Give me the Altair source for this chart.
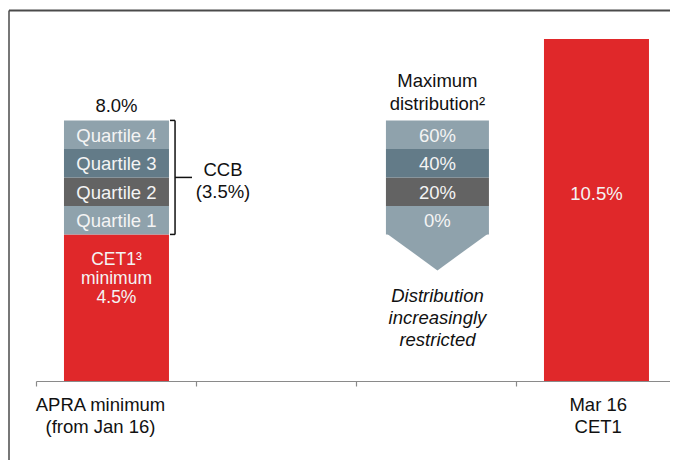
import altair as alt
import pandas as pd

FONT = "Liberation Sans"
RED = "#E0282A"
LIGHT = "#8FA2AC"
BLUE = "#637B88"
DARK = "#636363"
TXT_IN = "#F4F4F4"

# ---- data ----
axis_ticks = [0, 1, 2, 3, 4]
axis_labels = ["APRA minimum\n(from Jan 16)", "Mar 16\nCET1"]
axis_label_x = [0.403, 3.514]

apra_x = 0.503
apra_segments = ["CET1", "Quartile 1", "Quartile 2", "Quartile 3", "Quartile 4"]
apra_values = [4.5, 0.875, 0.875, 0.875, 0.875]
apra_colors = [RED, LIGHT, DARK, BLUE, LIGHT]
apra_total_label = "8.0%"
cet1_label = "CET1³\nminimum\n4.5%"

dist_x = 2.509
dist_base = 4.5
dist_labels = ["0%", "20%", "40%", "60%"]
dist_values = [0.875, 0.875, 0.875, 0.875]
dist_colors = [LIGHT, DARK, BLUE, LIGHT]
dist_title = "Maximum\ndistribution²"
dist_note = "Distribution\nincreasingly\nrestricted"

mar_x = 3.503
mar_value = 10.5
mar_label = "10.5%"

ccb_label = "CCB\n(3.5%)"
ccb_x = 1.169
bracket_x = 0.869
bracket_tick_x = 0.8375
bracket_mid_x2 = 0.975

# ---- tables ----
seg_rows = []
y0 = 0.0
for name, v, c in zip(apra_segments, apra_values, apra_colors):
    seg_rows.append(dict(x=apra_x, y=y0, y2=y0 + v, color=c, label=name, mid=y0 + v / 2))
    y0 += v
apra_top = y0
y0 = dist_base
for name, v, c in zip(dist_labels, dist_values, dist_colors):
    seg_rows.append(dict(x=dist_x, y=y0, y2=y0 + v, color=c, label=name, mid=y0 + v / 2))
    y0 += v
dist_top = y0
seg_rows.append(dict(x=mar_x, y=0.0, y2=mar_value, color=RED, label=mar_label, mid=mar_value / 2))
seg = pd.DataFrame(seg_rows)

xscale = alt.Scale(domain=[0, 4], nice=False, zero=False, padding=0, range=[0, 640])
yscale = alt.Scale(domain=[0, 11.39], nice=False, zero=True, padding=0)

X = alt.X("x:Q", scale=xscale,
          axis=alt.Axis(values=axis_ticks, labels=False, tickSize=5, tickColor="#8A8A8A",
                        domainColor="#8A8A8A", domainWidth=1.2, tickWidth=1.2, grid=False),
          title=None)
Y = alt.Y("y:Q", scale=yscale, axis=None)

bars = alt.Chart(seg).mark_bar(width=105).transform_filter("datum.x != %s" % dist_x).encode(
    x=X, y=Y, y2="y2:Q", color=alt.Color("color:N", scale=None))
dist_bars = alt.Chart(seg).mark_bar(width=103).transform_filter("datum.x == %s" % dist_x).encode(
    x="x:Q", y="y:Q", y2="y2:Q", color=alt.Color("color:N", scale=None))

tri = alt.Chart(pd.DataFrame({"x": [dist_x], "y": [dist_base]})).mark_point(
    shape="M -1 -0.03 L 1 -0.03 L 0 0.7 Z", size=10609, filled=True, opacity=1,
    color=LIGHT, strokeWidth=0).encode(x="x:Q", y="y:Q")

inner = alt.Chart(seg).transform_filter(
    "datum.label != 'CET1' && datum.label != '%s'" % mar_label).mark_text(
    font=FONT, fontSize=18.5, color=TXT_IN, baseline="middle", dy=1).encode(
    x="x:Q", y="mid:Q", text="label:N")

cet1 = alt.Chart(pd.DataFrame({"x": [apra_x], "y": [apra_values[0] / 2], "t": [cet1_label]})).mark_text(
    font=FONT, fontSize=17.5, color=TXT_IN, baseline="middle", lineBreak="\n", lineHeight=19, dy=-48).encode(
    x="x:Q", y="y:Q", text="t:N")

mar_t = alt.Chart(pd.DataFrame({"x": [mar_x], "y": [mar_value / 2], "t": [mar_label]})).mark_text(
    font=FONT, fontSize=18.5, color=TXT_IN, baseline="middle", dy=-16).encode(
    x="x:Q", y="y:Q", text="t:N")

top_t = alt.Chart(pd.DataFrame({"x": [apra_x], "y": [apra_top], "t": [apra_total_label]})).mark_text(
    font=FONT, fontSize=18.5, color="#111", baseline="middle", dy=-14).encode(
    x="x:Q", y="y:Q", text="t:N")

dist_t = alt.Chart(pd.DataFrame({"x": [dist_x], "y": [dist_top], "t": [dist_title]})).mark_text(
    font=FONT, fontSize=18.5, color="#111", baseline="middle", lineBreak="\n", lineHeight=23, dy=-39).encode(
    x="x:Q", y="y:Q", text="t:N")

note_t = alt.Chart(pd.DataFrame({"x": [dist_x], "y": [2.0], "t": [dist_note]})).mark_text(
    font=FONT, fontSize=18.5, fontStyle="italic", color="#111", baseline="middle",
    lineBreak="\n", lineHeight=22, dy=-20).encode(
    x="x:Q", y="y:Q", text="t:N")

ccb_t = alt.Chart(pd.DataFrame({"x": [ccb_x], "y": [dist_base + 1.75], "t": [ccb_label]})).mark_text(
    font=FONT, fontSize=18.5, color="#111", baseline="middle", lineBreak="\n", lineHeight=22, dy=-7).encode(
    x="x:Q", y="y:Q", text="t:N")

axis_t = alt.Chart(pd.DataFrame({"x": axis_label_x, "y": [0, 0], "t": axis_labels})).mark_text(
    font=FONT, fontSize=18.5, color="#111", baseline="middle", lineBreak="\n", lineHeight=22, dy=24).encode(
    x="x:Q", y="y:Q", text="t:N")

br = pd.DataFrame({
    "x": [bracket_x, bracket_tick_x, bracket_tick_x, bracket_x],
    "x2": [bracket_x, bracket_x, bracket_x, bracket_mid_x2],
    "y": [dist_base, dist_base, apra_top, dist_base + 1.75],
    "y2": [apra_top, dist_base, apra_top, dist_base + 1.75],
})
bracket = alt.Chart(br).mark_rule(color="#111", strokeWidth=1.5).encode(
    x="x:Q", x2="x2:Q", y="y:Q", y2="y2:Q")

one = pd.DataFrame({"a": [0]})
frame_v = alt.Chart(one).mark_rule(color="#4A4A4A", strokeWidth=1.5).encode(
    x=alt.value(-27), y=alt.value(0.5), y2=alt.value(452))
frame_h = alt.Chart(one).mark_rule(color="#4A4A4A", strokeWidth=2).encode(
    x=alt.value(-27), x2=alt.value(634), y=alt.value(0.5))

chart = alt.layer(
    bars, dist_bars, tri, inner, cet1, mar_t, top_t, dist_t, note_t, ccb_t, axis_t,
    bracket, frame_v, frame_h
).properties(
    width=634, height=371,
    autosize=alt.AutoSizeParams(type="none"),
    padding={"left": 28, "top": 2, "right": 0, "bottom": 79},
).configure_view(strokeWidth=0)

chart.save("out.html", embed_options={"renderer": "svg", "actions": False})
